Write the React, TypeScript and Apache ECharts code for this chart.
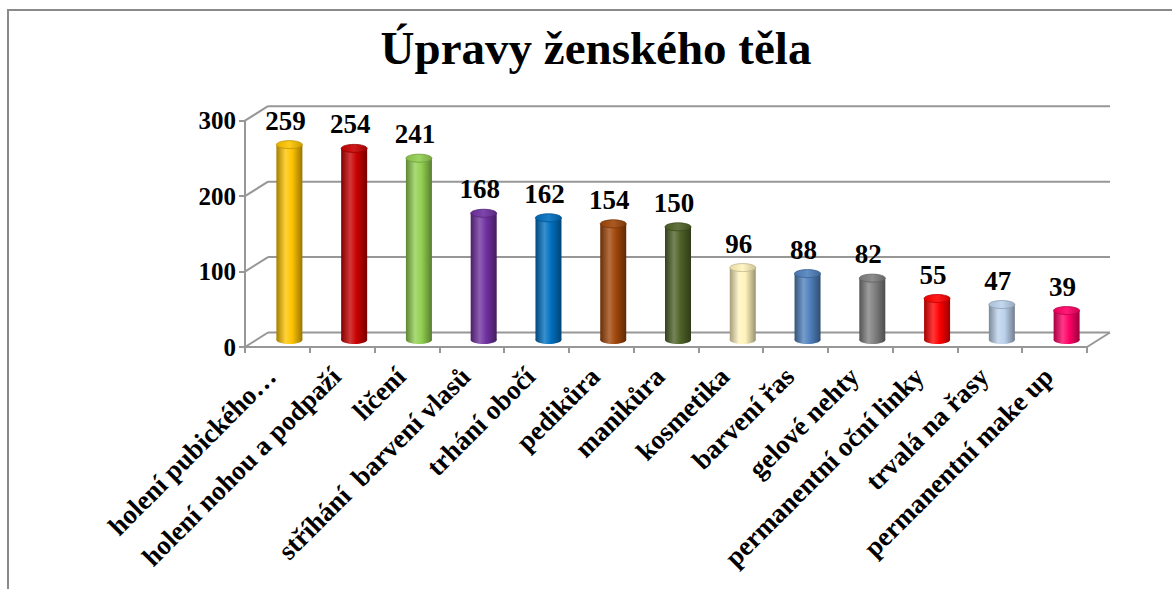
import { useEffect, useRef } from "react";
import * as echarts from "echarts";

const TITLE = "Úpravy ženského těla";
const categories = [
  "holení pubického…",
  "holení nohou a podpaží",
  "ličení",
  "stříhání  barvení vlasů",
  "trhání obočí",
  "pedikůra",
  "manikůra",
  "kosmetika",
  "barvení řas",
  "gelové nehty",
  "permanentní oční linky",
  "trvalá na řasy",
  "permanentní make up",
];
const values = [259, 254, 241, 168, 162, 154, 150, 96, 88, 82, 55, 47, 39];
const barColors = [
  "#FFC400",
  "#C80000",
  "#92D050",
  "#7030A0",
  "#0070C0",
  "#A0460A",
  "#4F6228",
  "#FFF3BC",
  "#4F81BD",
  "#808080",
  "#FF0000",
  "#BCD2EC",
  "#FF0066",
];
const yTicks = [0, 100, 200, 300];

const FONT = '"Liberation Serif", "Times New Roman", serif';
const GRID_COLOR = "#979797";
const DX = 23; // depth offset of the back wall
const DY = -14.5;
const MX = 12; // offset of the bar plane
const MY = -7;
const BAR_W = 26;
const RY = 4;

function shade(hex: string, f: number): string {
  const n = parseInt(hex.slice(1), 16);
  let r = (n >> 16) & 255;
  let g = (n >> 8) & 255;
  let b = n & 255;
  if (f >= 0) {
    r = r + (255 - r) * f;
    g = g + (255 - g) * f;
    b = b + (255 - b) * f;
  } else {
    r = r * (1 + f);
    g = g * (1 + f);
    b = b * (1 + f);
  }
  const h = (x: number) => Math.round(x).toString(16).padStart(2, "0");
  return "#" + h(r) + h(g) + h(b);
}

function bodyFill(c: string) {
  return {
    type: "linear",
    x: 0,
    y: 0,
    x2: 1,
    y2: 0,
    colorStops: [
      { offset: 0, color: shade(c, -0.35) },
      { offset: 0.35, color: shade(c, 0.22) },
      { offset: 0.6, color: c },
      { offset: 1, color: shade(c, -0.4) },
    ],
  };
}

export default function App() {
  const ref = useRef<HTMLDivElement>(null);
  useEffect(() => {
    if (!ref.current) return;
    const chart = echarts.init(ref.current, undefined, { renderer: "svg" });
    const lineStyle = { color: GRID_COLOR, width: 2 };
    chart.setOption({
      animation: false,
      backgroundColor: "#fff",
      graphic: [
        {
          type: "rect",
          shape: { x: 8, y: 10, width: 1400, height: 800 },
          style: { fill: "none", stroke: "#8a8a8a", lineWidth: 2 },
          silent: true,
        },
        {
          type: "text",
          x: 596,
          y: 48,
          style: {
            text: TITLE,
            font: `bold 47px ${FONT}`,
            fill: "#000",
            align: "center",
            verticalAlign: "middle",
          },
        },
      ],
      grid: [
        { left: 245, right: 85, top: 120.7, bottom: 242 },
        { left: 239, right: 91, top: 120.7, bottom: 242 },
      ],
      xAxis: [
        {
          type: "category",
          gridIndex: 0,
          data: categories,
          boundaryGap: true,
          axisLine: { show: true, lineStyle },
          axisTick: { show: true, length: 6, lineStyle, alignWithLabel: false, interval: 0 },
          axisLabel: { show: false },
          splitLine: { show: false },
        },
        {
          type: "category",
          gridIndex: 1,
          data: categories,
          boundaryGap: true,
          axisLine: { show: false },
          axisTick: { show: false },
          axisLabel: {
            show: true,
            interval: 0,
            rotate: 45,
            margin: 25,
            fontSize: 27,
            fontWeight: "bold",
            fontFamily: FONT,
            color: "#000",
          },
        },
      ],
      yAxis: [
        {
          type: "value",
          gridIndex: 0,
          min: 0,
          max: 300,
          interval: 100,
          axisLine: { show: true, lineStyle },
          axisTick: { show: true, length: 6, lineStyle },
          axisLabel: {
            margin: 9,
            fontSize: 25,
            fontWeight: "bold",
            fontFamily: FONT,
            color: "#000",
          },
          splitLine: { show: false },
        },
        { type: "value", gridIndex: 1, min: 0, max: 300, interval: 100, show: false },
      ],
      series: [
        {
          type: "custom",
          xAxisIndex: 0,
          yAxisIndex: 0,
          z: 1,
          silent: true,
          data: yTicks.map((v) => [0, v]),
          renderItem: (params: any, api: any) => {
            const v = api.value(1);
            const p = api.coord([0, v]);
            const cs = params.coordSys;
            const y = p[1];
            const x0 = cs.x;
            const x1 = cs.x + cs.width;
            const style = { stroke: GRID_COLOR, lineWidth: 2 };
            const children: any[] = [
              { type: "line", shape: { x1: x0, y1: y, x2: x0 + DX, y2: y + DY }, style },
              { type: "line", shape: { x1: x0 + DX, y1: y + DY, x2: x1 + DX, y2: y + DY }, style },
            ];
            if (v === 0) {
              children.push({
                type: "line",
                shape: { x1: x1, y1: y, x2: x1 + DX, y2: y + DY },
                style,
              });
            }
            return { type: "group", children };
          },
        },
        {
          type: "custom",
          xAxisIndex: 0,
          yAxisIndex: 0,
          z: 3,
          data: values.map((v, i) => [i, v]),
          encode: { x: 0, y: 1 },
          renderItem: (params: any, api: any) => {
            const i = api.value(0);
            const v = api.value(1);
            const top = api.coord([i, v]);
            const base = api.coord([i, 0]);
            const cx = top[0] + MX;
            const ty = top[1] + MY;
            const by = base[1] + MY;
            const c = barColors[i];
            const fill = bodyFill(c);
            return {
              type: "group",
              children: [
                {
                  type: "ellipse",
                  shape: { cx, cy: by, rx: BAR_W / 2, ry: RY },
                  style: { fill },
                },
                {
                  type: "rect",
                  shape: { x: cx - BAR_W / 2, y: ty, width: BAR_W, height: by - ty },
                  style: { fill },
                },
                {
                  type: "ellipse",
                  shape: { cx, cy: ty, rx: BAR_W / 2, ry: RY },
                  style: {
                    fill: {
                      type: "linear",
                      x: 0,
                      y: 0,
                      x2: 1,
                      y2: 0,
                      colorStops: [
                        { offset: 0, color: shade(c, -0.1) },
                        { offset: 0.5, color: shade(c, 0.1) },
                        { offset: 1, color: shade(c, -0.2) },
                      ],
                    },
                    stroke: shade(c, -0.25),
                    lineWidth: 0.8,
                  },
                },
                {
                  type: "text",
                  x: cx - 4,
                  y: ty - 24,
                  style: {
                    text: String(v),
                    font: `bold 27px ${FONT}`,
                    fill: "#000",
                    align: "center",
                    verticalAlign: "middle",
                  },
                },
              ],
            };
          },
        },
      ],
    });
    return () => chart.dispose();
  }, []);
  return (
    <div
      ref={ref}
      style={{ position: "absolute", left: 0, top: 0, width: 1172, height: 589 }}
    />
  );
}
